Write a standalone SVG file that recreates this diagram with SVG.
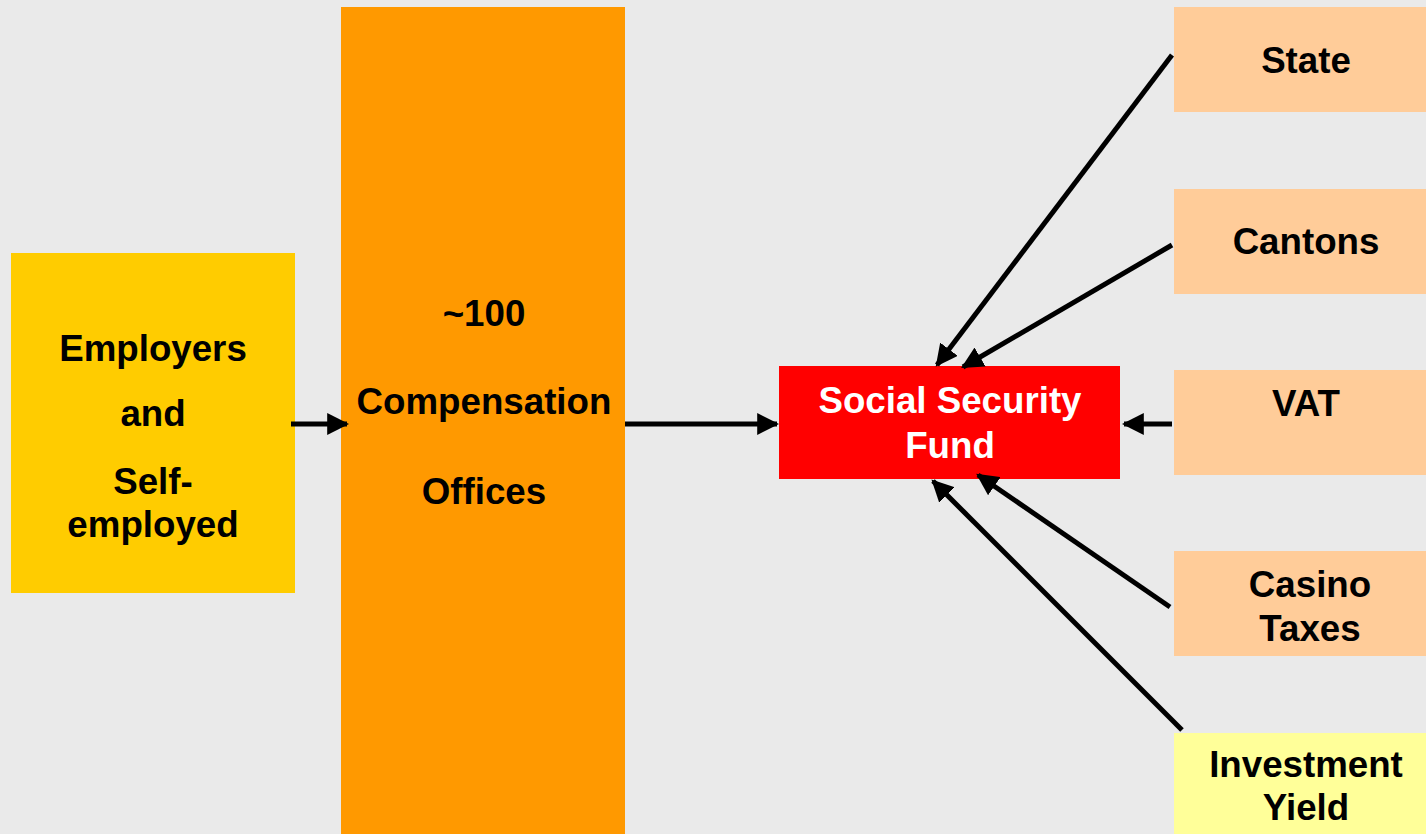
<svg xmlns="http://www.w3.org/2000/svg" width="1426" height="834" viewBox="0 0 1426 834">
<style>
text{font-family:"Liberation Sans",Arial,sans-serif;font-weight:bold;font-size:36.7px;text-anchor:middle;fill:#000}
.w{fill:#fff}
.c line{stroke:#000;stroke-width:5}
</style>
<defs>
<marker id="ah" viewBox="0 0 10 10" refX="9" refY="5" markerWidth="4.4" markerHeight="4.4" markerUnits="strokeWidth" orient="auto">
<path d="M0,0 L10,5 L0,10 Z" fill="#000"/>
</marker>
</defs>
<rect width="1426" height="834" fill="#EAEAEA"/>
<g id="employers">
<rect x="11" y="253" width="284" height="340" fill="#FFCC00"/>
<text x="153" y="361">Employers</text>
<text x="153" y="426">and</text>
<text x="153" y="494">Self-</text>
<text x="153" y="537">employed</text>
</g>
<g id="offices">
<rect x="341" y="7" width="284" height="827" fill="#FF9900"/>
<text x="484" y="326">~100</text>
<text x="484" y="414">Compensation</text>
<text x="484" y="504">Offices</text>
</g>
<g id="fund">
<rect x="779" y="366" width="341" height="113" fill="#FF0000"/>
<text class="w" x="950" y="413">Social Security</text>
<text class="w" x="950" y="458">Fund</text>
</g>
<g id="state">
<rect x="1174" y="7" width="252" height="105" fill="#FFCC99"/>
<text x="1306" y="73">State</text>
</g>
<g id="cantons">
<rect x="1174" y="189" width="252" height="105" fill="#FFCC99"/>
<text x="1306" y="254">Cantons</text>
</g>
<g id="vat">
<rect x="1174" y="370" width="252" height="105" fill="#FFCC99"/>
<text x="1306" y="416">VAT</text>
</g>
<g id="casino">
<rect x="1174" y="551" width="252" height="105" fill="#FFCC99"/>
<text x="1310" y="597">Casino</text>
<text x="1310" y="641">Taxes</text>
</g>
<g id="investment">
<rect x="1174" y="733" width="252" height="101" fill="#FFFF99"/>
<text x="1306" y="777">Investment</text>
<text x="1306" y="820">Yield</text>
</g>
<g class="c" id="connectors">
<line x1="291" y1="424" x2="347" y2="424" marker-end="url(#ah)"/>
<line x1="625" y1="424" x2="777" y2="424" marker-end="url(#ah)"/>
<line x1="1172" y1="424" x2="1124" y2="424" marker-end="url(#ah)"/>
<line x1="1172" y1="55" x2="937" y2="365" marker-end="url(#ah)"/>
<line x1="1172" y1="245" x2="963" y2="367" marker-end="url(#ah)"/>
<line x1="1170" y1="607" x2="978" y2="475" marker-end="url(#ah)"/>
<line x1="1182" y1="730" x2="933" y2="481" marker-end="url(#ah)"/>
</g>
</svg>
